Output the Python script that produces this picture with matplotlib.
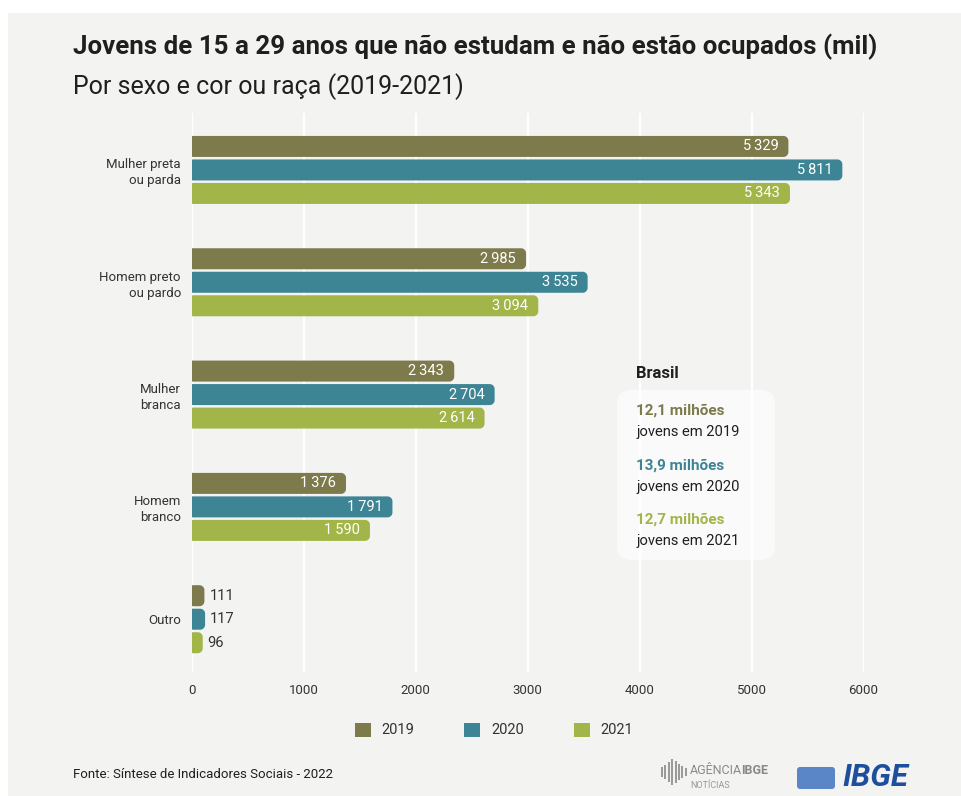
import numpy as np
import matplotlib
matplotlib.use('Agg')
import matplotlib.pyplot as plt
from matplotlib.patches import FancyBboxPatch, Patch, Rectangle, PathPatch
from matplotlib.path import Path
from matplotlib.transforms import IdentityTransform

# dados (mil jovens)
categorias = ['Mulher preta\nou parda', 'Homem preto\nou pardo', 'Mulher\nbranca', 'Homem\nbranco', 'Outro']
anos = ['2019', '2020', '2021']
v2019 = [5329, 2985, 2343, 1376, 111]
v2020 = [5811, 3535, 2704, 1791, 117]
v2021 = [5343, 3094, 2614, 1590, 96]
cores = ['#7d7a4b', '#3d8495', '#a2b548']
totais = ['12,1 milhões', '13,9 milhões', '12,7 milhões']
xticks = [0, 1000, 2000, 3000, 4000, 5000, 6000]

W, H = 962, 796
BG = '#f3f3f2'
FONTE = ['Roboto', 'DejaVu Sans']

def fx(px):
    return px / W

def fy(py):
    return 1 - py / H

def barra_arredondada(v, y0, h, rx, ry):
    # retangulo com canto esquerdo reto e direito arredondado
    rx = min(rx, v / 2)
    t = np.linspace(0, np.pi / 2, 12)
    pts = [(0, y0), (v - rx, y0)]
    pts += [(v - rx + rx * np.sin(a), y0 + ry - ry * np.cos(a)) for a in t]
    pts += [(v, y0 + h - ry)]
    pts += [(v - rx + rx * np.cos(a), y0 + h - ry + ry * np.sin(a)) for a in t]
    pts += [(0, y0 + h), (0, y0)]
    return Path(pts)

fig = plt.figure(figsize=(W / 100, H / 100), dpi=100, facecolor='white')
fig.add_artist(Rectangle((8, 0), W - 8, H - 13, transform=IdentityTransform(),
                         facecolor=BG, edgecolor='none', zorder=-10))

ax_left, ax_right, ax_top, ax_bottom = 192, 863.5, 113, 672
ax = fig.add_axes([fx(ax_left), fy(ax_bottom), (ax_right - ax_left) / W, (ax_bottom - ax_top) / H])
ax.set_facecolor('none')
ax.set_xlim(0, 6000)
ax.set_ylim(4.47, -0.507)
for s in ax.spines.values():
    s.set_visible(False)

for x in xticks:
    ax.axvline(x, color='white', lw=1.6, zorder=0)

px_x = 6000 / (ax_right - ax_left)      # dados por pixel em x
px_y = 4.977 / (ax_bottom - ax_top)      # dados por pixel em y
passo = 23.5 * px_y
altura = 21 * px_y

series = [v2019, v2020, v2021]
for j, vals in enumerate(series):
    for i, v in enumerate(vals):
        yc = i + (j - 1) * passo
        path = barra_arredondada(v, yc - altura / 2, altura, 5 * px_x, 5 * px_y)
        ax.add_patch(PathPatch(path, facecolor=cores[j], edgecolor='none', zorder=2))
        rotulo = '{:,}'.format(v).replace(',', '\u2009')
        if v > 500:
            ax.text(v - 10 * px_x, yc, rotulo, ha='right', va='center', color='white',
                    fontsize=10.5, family=FONTE, zorder=3)
        else:
            ax.text(v + 5 * px_x, yc, rotulo, ha='left', va='center', color='#333333',
                    fontsize=10.5, family=FONTE, zorder=3)

ax.set_xticks(xticks)
ax.set_xticklabels([str(x) for x in xticks], family=FONTE, fontsize=9.5, color='#333333')
ax.set_yticks(range(len(categorias)))
ax.set_yticklabels(categorias, fontsize=9.5, family=FONTE, color='#333333', linespacing=1.3)
ax.tick_params(axis='both', length=0)
ax.tick_params(axis='x', pad=9)
ax.tick_params(axis='y', pad=8)

# titulo
fig.text(fx(73), fy(47), 'Jovens de 15 a 29 anos que não estudam e não estão ocupados (mil)',
         ha='left', va='center', fontsize=18.6, fontweight='bold', family=FONTE, color='#1f1f1f')
fig.text(fx(73), fy(87), 'Por sexo e cor ou raça (2019-2021)',
         ha='left', va='center', fontsize=18, family=FONTE, color='#1f1f1f')

# quadro Brasil
fig.add_artist(FancyBboxPatch((617, H - 560), 158, 170, boxstyle='round,pad=0,rounding_size=14',
                              transform=IdentityTransform(), facecolor='white', alpha=0.65,
                              edgecolor='none', zorder=5))
fig.text(fx(636), fy(373), 'Brasil', ha='left', va='center', fontsize=12,
         fontweight='bold', family=FONTE, color='#1f1f1f', zorder=6)
for k, ano in enumerate(anos):
    y0 = 411 + k * 54.5
    fig.text(fx(636), fy(y0), totais[k], ha='left', va='center', fontsize=11,
             fontweight='bold', family=FONTE, color=cores[k], zorder=6)
    fig.text(fx(636), fy(y0 + 21), 'jovens em ' + ano, ha='left', va='center',
             fontsize=10.6, family=FONTE, color='#1f1f1f', zorder=6)

# legenda
handles = [Patch(facecolor=c, edgecolor='none', label=a) for c, a in zip(cores, anos)]
fig.legend(handles=handles, loc='center', bbox_to_anchor=(fx(494), fy(730)), ncol=3,
           frameon=False, prop={'family': FONTE, 'size': 10.5},
           handlelength=1.1, handleheight=1.1,
           handletextpad=0.75, columnspacing=3.4, labelcolor='#333333')

# rodape
fig.text(fx(73), fy(774), 'Fonte: Síntese de Indicadores Sociais - 2022', ha='left', va='center',
         fontsize=9.5, family=FONTE, color='#1f1f1f')
fig.text(fx(690), fy(770), 'AGÊNCIA', ha='left', va='center', fontsize=9, family=FONTE, color='#8a8a8a')
fig.text(fx(741), fy(770), 'IBGE', ha='left', va='center', fontsize=9, fontweight='bold',
         family=FONTE, color='#8a8a8a')
fig.text(fx(690), fy(785), 'NOTÍCIAS', ha='left', va='center', fontsize=6.5, family=FONTE, color='#9a9a9a')
for k, h in enumerate([10, 14, 20, 26, 22, 16, 12, 8]):
    fig.add_artist(Rectangle((661 + k * 3.4, H - 772 - h / 2), 2, h, transform=IdentityTransform(),
                             facecolor='#9a9a9a', edgecolor='none'))
fig.add_artist(FancyBboxPatch((797, H - 789), 38, 22, boxstyle='round,pad=0,rounding_size=3',
                              transform=IdentityTransform(), facecolor='#5a86c8', edgecolor='none'))
fig.text(fx(842), fy(778), 'IBGE', ha='left', va='center', fontsize=22.5, fontweight='bold',
         style='italic', family=FONTE, color='#1d4f9c')

fig.savefig('out.png', dpi=100, facecolor=fig.get_facecolor())
